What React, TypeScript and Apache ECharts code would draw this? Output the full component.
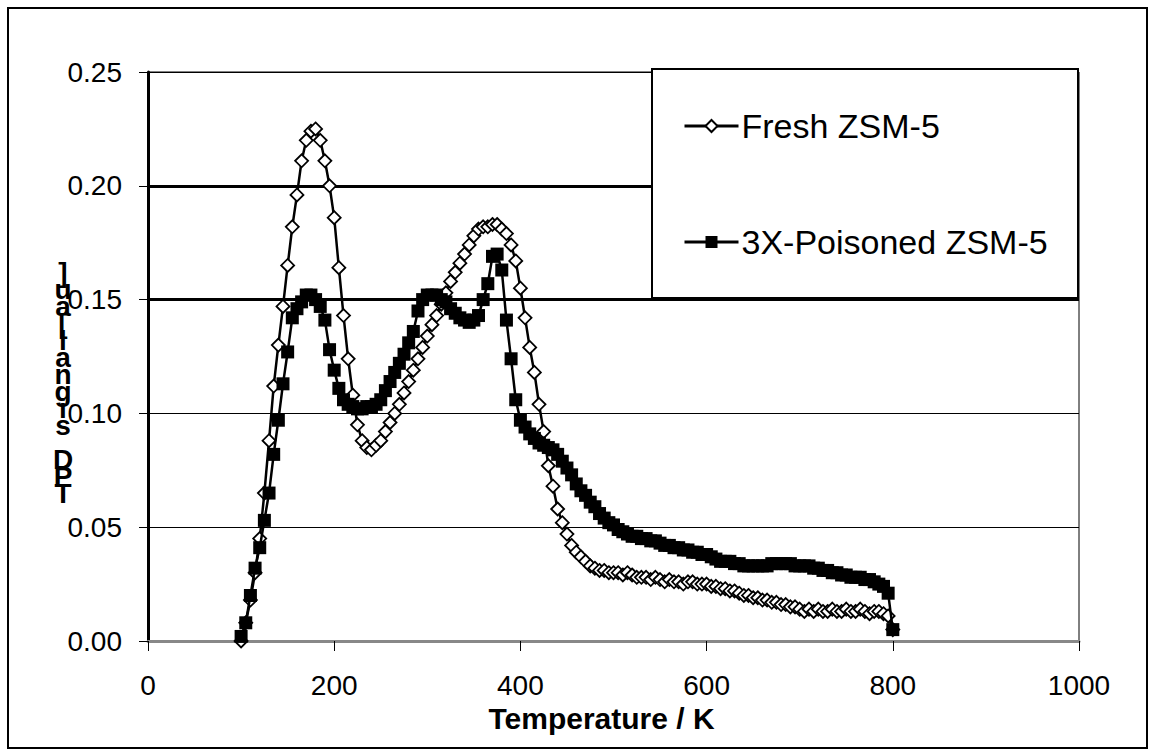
import { useEffect, useRef } from "react";
import * as echarts from "echarts";

// Temperature grid (K), shared by both series
const temperatureK = [
  100, 105, 110, 115, 120, 125, 130, 135, 140, 145,
  150, 155, 160, 165, 170, 175, 180, 185, 190, 195,
  200, 205, 210, 215, 220, 225, 230, 235, 240, 245,
  250, 255, 260, 265, 270, 275, 280, 285, 290, 295,
  300, 305, 310, 315, 320, 325, 330, 335, 340, 345,
  350, 355, 360, 365, 370, 375, 380, 385, 390, 395,
  400, 405, 410, 415, 420, 425, 430, 435, 440, 445,
  450, 455, 460, 465, 470, 475, 480, 485, 490, 495,
  500, 505, 510, 515, 520, 525, 530, 535, 540, 545,
  550, 555, 560, 565, 570, 575, 580, 585, 590, 595,
  600, 605, 610, 615, 620, 625, 630, 635, 640, 645,
  650, 655, 660, 665, 670, 675, 680, 685, 690, 695,
  700, 705, 710, 715, 720, 725, 730, 735, 740, 745,
  750, 755, 760, 765, 770, 775, 780, 785, 790, 795,
  800,
];

const freshSignal = [
  0.000, 0.008, 0.018, 0.030, 0.045, 0.065, 0.088, 0.112, 0.130, 0.147,
  0.165, 0.182, 0.196, 0.211, 0.220, 0.224, 0.225, 0.220, 0.211, 0.200,
  0.186, 0.164, 0.143, 0.124, 0.108, 0.095, 0.088, 0.085, 0.084, 0.086,
  0.088, 0.092, 0.096, 0.100, 0.104, 0.109, 0.114, 0.119, 0.124, 0.129,
  0.134, 0.139, 0.143, 0.148, 0.153, 0.158, 0.162, 0.166, 0.170, 0.174,
  0.178, 0.181, 0.182, 0.182, 0.183, 0.183, 0.181, 0.179, 0.174, 0.167,
  0.155, 0.142, 0.129, 0.118, 0.104, 0.092, 0.077, 0.068, 0.058, 0.052,
  0.047, 0.042, 0.039, 0.037, 0.035, 0.033, 0.032, 0.031, 0.031, 0.030,
  0.030, 0.030, 0.029, 0.030, 0.029, 0.028, 0.028, 0.028, 0.027, 0.028,
  0.027, 0.026, 0.027, 0.026, 0.026, 0.025, 0.026, 0.026, 0.025, 0.025,
  0.025, 0.024, 0.024, 0.023, 0.023, 0.022, 0.022, 0.021, 0.020, 0.020,
  0.019, 0.019, 0.018, 0.018, 0.017, 0.017, 0.016, 0.016, 0.015, 0.015,
  0.014, 0.013, 0.014, 0.013, 0.014, 0.013, 0.013, 0.014, 0.013, 0.013,
  0.014, 0.013, 0.013, 0.014, 0.013, 0.012, 0.013, 0.013, 0.012, 0.011,
  0.005,
];

const poisonedSignal = [
  0.002, 0.008, 0.020, 0.032, 0.041, 0.053, 0.065, 0.082, 0.097, 0.113,
  0.127, 0.142, 0.146, 0.149, 0.152, 0.152, 0.150, 0.147, 0.141, 0.128,
  0.119, 0.111, 0.106, 0.104, 0.103, 0.102, 0.102, 0.103, 0.103, 0.104,
  0.106, 0.110, 0.114, 0.118, 0.122, 0.126, 0.131, 0.136, 0.145, 0.150,
  0.152, 0.152, 0.152, 0.150, 0.149, 0.146, 0.144, 0.142, 0.141, 0.140,
  0.141, 0.143, 0.150, 0.157, 0.169, 0.170, 0.163, 0.141, 0.124, 0.106,
  0.097, 0.094, 0.091, 0.089, 0.087, 0.086, 0.085, 0.084, 0.082, 0.079,
  0.076, 0.073, 0.069, 0.066, 0.064, 0.061, 0.059, 0.056, 0.054, 0.052,
  0.051, 0.049, 0.048, 0.047, 0.046, 0.046, 0.045, 0.045, 0.044, 0.044,
  0.043, 0.042, 0.042, 0.041, 0.041, 0.040, 0.040, 0.039, 0.039, 0.038,
  0.038, 0.037, 0.036, 0.035, 0.035, 0.035, 0.034, 0.034, 0.033, 0.033,
  0.033, 0.033, 0.033, 0.033, 0.034, 0.034, 0.034, 0.034, 0.034, 0.033,
  0.033, 0.033, 0.033, 0.032, 0.032, 0.031, 0.031, 0.030, 0.030, 0.029,
  0.029, 0.028, 0.028, 0.028, 0.027, 0.027, 0.026, 0.025, 0.024, 0.021,
  0.005,
];

const seriesNames = ["Fresh ZSM-5", "3X-Poisoned ZSM-5"];
const xAxisTitle = "Temperature / K";
// y-axis title as it appears in the picture: stacked characters
const yAxisTitleChars = ["]", "u", "a", "[", "l", "a", "n", "g", "i", "s", " ", "D", "P", "T"];

const FONT = '"Liberation Sans", Arial, sans-serif';

export default function App() {
  const ref = useRef<HTMLDivElement>(null);

  useEffect(() => {
    if (!ref.current) return;
    const chart = echarts.init(ref.current, null, { renderer: "svg" });
    const fresh = temperatureK.map((t, i) => [t, freshSignal[i]]);
    const poisoned = temperatureK.map((t, i) => [t, poisonedSignal[i]]);
    const clear = "rgba(0,0,0,0)";

    chart.setOption({
      animation: false,
      backgroundColor: "#fff",
      textStyle: { fontFamily: FONT },
      grid: {
        left: 148,
        right: 76,
        top: 72,
        bottom: 115,
        show: true,
        borderColor: "#000",
        borderWidth: 1,
        backgroundColor: "#fff",
      },
      xAxis: {
        type: "value",
        min: 0,
        max: 1000,
        interval: 200,
        axisLine: { show: true, onZero: false, lineStyle: { color: "#888", width: 3 } },
        axisTick: { show: true, inside: false, length: 10, lineStyle: { color: "#000", width: 1 } },
        axisLabel: {
          fontSize: 28,
          color: "#000",
          margin: 30,
          fontFamily: FONT,
          formatter: (v: number) => String(v),
        },
        splitLine: { show: false },
        name: xAxisTitle,
        nameLocation: "middle",
        nameGap: 62,
        nameTextStyle: {
          fontSize: 30,
          fontWeight: "bold",
          color: "#000",
          fontFamily: FONT,
          padding: [0, 24, 0, 0],
        },
      },
      yAxis: [
        {
          type: "value",
          min: 0,
          max: 0.25,
          interval: 0.05,
          axisLine: { show: true, lineStyle: { color: "#000", width: 3 } },
          axisTick: { show: true, length: 9, lineStyle: { color: "#000", width: 1 } },
          axisLabel: {
            fontSize: 28,
            color: "#000",
            margin: 26,
            fontFamily: FONT,
            formatter: (v: number) => v.toFixed(2),
          },
          splitLine: { show: true, lineStyle: { color: "#000", width: 1 } },
        },
        {
          type: "value",
          min: 0,
          max: 0.25,
          interval: 0.05,
          position: "left",
          axisLine: { show: false },
          axisTick: { show: false },
          axisLabel: { show: false },
          splitLine: {
            show: true,
            lineStyle: { color: [clear, clear, clear, "#000", "#000", clear], width: 3 },
          },
        },
      ],
      legend: {
        orient: "vertical",
        left: 683,
        top: 109,
        itemWidth: 54,
        itemHeight: 15,
        itemGap: 82,
        padding: 0,
        z: 6,
        data: seriesNames,
        lineStyle: { width: 3 },
        textStyle: { fontSize: 34, color: "#000", fontFamily: FONT, padding: [0, 0, 0, -2] },
      },
      graphic: [
        {
          type: "rect",
          z: 5,
          shape: { x: 652, y: 69, width: 426, height: 229 },
          style: { fill: "#fff", stroke: "#000", lineWidth: 2 },
        },
        {
          type: "rect",
          z: 10,
          silent: true,
          shape: { x: 8, y: 8, width: 1139, height: 740 },
          style: { fill: "none", stroke: "#000", lineWidth: 2 },
        },
        {
          type: "text",
          z: 10,
          x: 63,
          y: 264,
          style: {
            text: yAxisTitleChars.join("\n"),
            font: `bold 28px ${FONT}`,
            fill: "#000",
            align: "center",
            lineHeight: 17,
          },
        },
      ],
      series: [
        {
          name: seriesNames[0],
          type: "line",
          yAxisIndex: 0,
          data: fresh,
          symbol: "diamond",
          symbolSize: 13,
          showAllSymbol: true,
          lineStyle: { color: "#000", width: 2.5 },
          itemStyle: { color: "#fff", borderColor: "#000", borderWidth: 1.8 },
          z: 3,
        },
        {
          name: seriesNames[1],
          type: "line",
          yAxisIndex: 0,
          data: poisoned,
          symbol: "rect",
          symbolSize: 13,
          showAllSymbol: true,
          lineStyle: { color: "#000", width: 2.5 },
          itemStyle: { color: "#000", borderColor: "#000", borderWidth: 0 },
          z: 4,
        },
      ],
    });

    return () => chart.dispose();
  }, []);

  return (
    <div
      ref={ref}
      style={{ position: "fixed", left: 0, top: 0, width: 1155, height: 756, background: "#fff" }}
    />
  );
}
